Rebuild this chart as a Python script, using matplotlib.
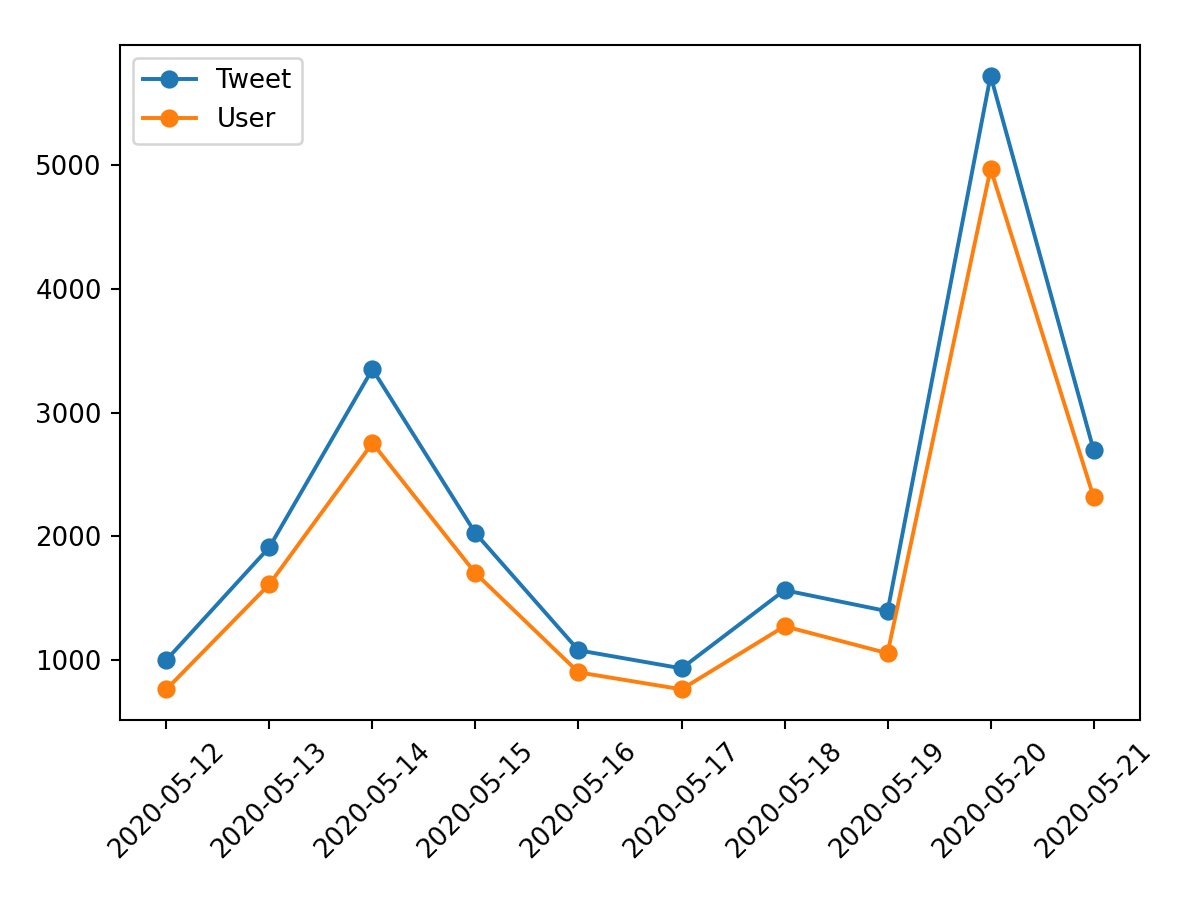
import matplotlib
matplotlib.use("Agg")
import matplotlib.pyplot as plt

dates = ["2020-05-12", "2020-05-13", "2020-05-14", "2020-05-15", "2020-05-16",
         "2020-05-17", "2020-05-18", "2020-05-19", "2020-05-20", "2020-05-21"]
tweet = [1003, 1913, 3350, 2026, 1081, 935, 1566, 1396, 5719, 2697]
user = [766, 1614, 2754, 1703, 903, 766, 1275, 1057, 4968, 2317]

fig, ax = plt.subplots(figsize=(6.4, 4.8), dpi=187.5)
ax.plot(dates, tweet, marker="o", label="Tweet")
ax.plot(dates, user, marker="o", label="User")
ax.legend(loc="upper left")
plt.xticks(rotation=45)
fig.subplots_adjust(left=0.1, right=0.95, top=0.95, bottom=0.2)
fig.savefig("out.png")
